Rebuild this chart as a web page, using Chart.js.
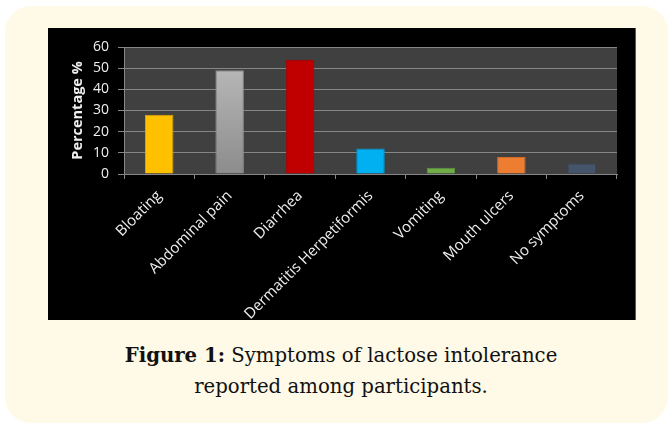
<!DOCTYPE html>
<html>
<head>
<meta charset="utf-8">
<script src="https://cdn.jsdelivr.net/npm/chart.js@4/dist/chart.umd.min.js"></script>
<style>
  html, body { margin: 0; padding: 0; background: #ffffff; }
  body { width: 670px; height: 424px; position: relative; overflow: hidden; }
  .panel {
    position: absolute; left: 5px; top: 6px; width: 663px; height: 417px;
    background: #fffae8; border-radius: 26px;
  }
  .chart-box {
    position: absolute; left: 48px; top: 28px; width: 588px; height: 292px;
    background: #000000; border-right: 1px solid #5a5a5a; box-sizing: border-box;
  }
  .caption {
    position: absolute; left: 41px; top: 340px; width: 600px;
    text-align: center; font-family: "DejaVu Serif", serif; font-size: 19.7px;
    line-height: 31px; color: #111111;
  }
  .caption b { font-weight: bold; }
</style>
</head>
<body>
<div class="panel"></div>
<div class="chart-box"><canvas id="chart" width="588" height="292"></canvas></div>
<div class="caption"><b>Figure 1:</b> Symptoms of lactose intolerance<br>reported among participants.</div>
<script>
// Symptom categories and the share of participants reporting each (%)
const symptoms = ['Bloating', 'Abdominal pain', 'Diarrhea', 'Dermatitis Herpetiformis', 'Vomiting', 'Mouth ulcers', 'No symptoms'];
const percentages = [28, 49, 54, 12, 3, 8, 5];
const yTicks = [0, 10, 20, 30, 40, 50, 60];

const barFills = ['#ffc000', null, '#c00000', '#00b0f0', '#70ad47', '#ed7d31', '#44546a'];
const barEdges = ['#e0a800', '#8a8a8a', '#a80000', '#0096cc', '#5e9639', '#cf6a24', '#38465a'];

// dark plot-area fill behind the bars
const plotBackground = {
  id: 'plotBackground',
  beforeDraw(chart) {
    const { ctx, chartArea: a } = chart;
    ctx.save();
    ctx.fillStyle = '#404040';
    ctx.fillRect(a.left, a.top, a.right - a.left, a.bottom - a.top);
    ctx.restore();
  }
};

const gridGrey = '#868686';
const textColor = '#efefef';

new Chart(document.getElementById('chart'), {
  type: 'bar',
  data: {
    labels: symptoms,
    datasets: [{
      data: percentages,
      backgroundColor(c) {
        const fill = barFills[c.dataIndex];
        if (fill) return fill;
        const chart = c.chart;
        const y = chart.scales && chart.scales.y;
        if (!chart.chartArea || !y) return '#a0a0a0';
        const g = chart.ctx.createLinearGradient(0, y.getPixelForValue(percentages[c.dataIndex]), 0, y.getPixelForValue(0));
        g.addColorStop(0, '#b6b6b6');
        g.addColorStop(1, '#8c8c8c');
        return g;
      },
      borderColor: barEdges,
      borderWidth: 1,
      barPercentage: 0.405,
      categoryPercentage: 1
    }]
  },
  options: {
    responsive: false,
    animation: false,
    layout: { padding: { top: 19, right: 19, left: 0, bottom: 0 } },
    plugins: { legend: { display: false }, tooltip: { enabled: false } },
    scales: {
      x: {
        grid: { offset: true, drawOnChartArea: false, drawTicks: true, tickLength: 5, color: gridGrey, lineWidth: 1 },
        border: { display: true, color: gridGrey, width: 1 },
        ticks: {
          autoSkip: false, minRotation: 45, maxRotation: 45, padding: 8,
          color: textColor, font: { family: 'Open Sans', size: 15 }
        },
        afterFit(s) { s.height = 146; }
      },
      y: {
        min: 0, max: 60,
        afterBuildTicks(s) { s.ticks = yTicks.map(v => ({ value: v })); },
        grid: { color: gridGrey, lineWidth: 1, drawTicks: true, tickLength: 6 },
        border: { display: true, color: gridGrey, width: 1 },
        ticks: { padding: 9, color: textColor, font: { family: 'Open Sans', size: 14 } },
        title: {
          display: true, text: 'Percentage %', color: textColor,
          font: { family: 'Open Sans', size: 14.5, weight: 'bold' },
          padding: { top: 21, bottom: 0 }
        },
        afterFit(s) { s.width = 76; }
      }
    }
  },
  plugins: [plotBackground]
});
</script>
</body>
</html>
